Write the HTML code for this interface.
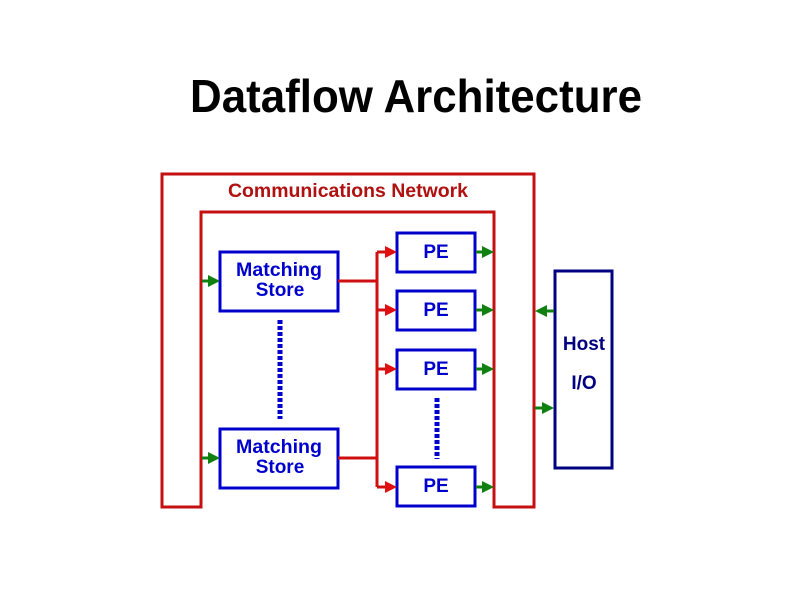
<!DOCTYPE html>
<html><head><style>html,body{margin:0;padding:0;background:#fff;width:794px;height:595px;overflow:hidden}</style></head>
<body>
<svg width="794" height="595" xmlns="http://www.w3.org/2000/svg" font-family="Liberation Sans, Arial, sans-serif" font-weight="bold">
<text x="416" y="112" font-size="46" text-anchor="middle" textLength="452" lengthAdjust="spacingAndGlyphs" fill="#000">Dataflow Architecture</text>
<path d="M162,507 L162,174 L534,174 L534,507 L494,507 L494,212 L201,212 L201,507 Z" fill="none" stroke="#c41010" stroke-width="3"/>
<text x="348" y="197" font-size="19" text-anchor="middle" textLength="240" lengthAdjust="spacingAndGlyphs" fill="#b01010">Communications Network</text>
<g fill="none" stroke="#0000cc" stroke-width="3">
<rect x="220" y="252" width="118" height="59"/>
<rect x="220" y="429" width="118" height="59"/>
<rect x="397" y="233" width="78" height="39"/>
<rect x="397" y="291" width="78" height="39"/>
<rect x="397" y="350" width="78" height="39"/>
<rect x="397" y="467" width="78" height="39"/>
</g>
<rect x="555" y="271" width="57" height="197" fill="none" stroke="#000080" stroke-width="3"/>
<g fill="#0000cc" font-size="19" text-anchor="middle">
<text x="279" y="276" textLength="86" lengthAdjust="spacingAndGlyphs">Matching</text><text x="280" y="296">Store</text>
<text x="279" y="453" textLength="86" lengthAdjust="spacingAndGlyphs">Matching</text><text x="280" y="473">Store</text>
<text x="436" y="258">PE</text><text x="436" y="316">PE</text>
<text x="436" y="375">PE</text><text x="436" y="492">PE</text>
</g>
<g fill="#000080" font-size="19" text-anchor="middle">
<text x="584" y="350">Host</text><text x="584" y="389">I/O</text>
</g>
<g stroke="#0000cc" stroke-width="5" stroke-dasharray="4,2">
<line x1="280" y1="320" x2="280" y2="419"/>
<line x1="437" y1="398" x2="437" y2="459"/>
</g>
<g stroke="#d01010" stroke-width="3" fill="none">
<line x1="377" y1="252" x2="377" y2="487"/>
<line x1="338" y1="281" x2="377" y2="281"/>
<line x1="338" y1="458" x2="377" y2="458"/>
<line x1="377" y1="252" x2="386" y2="252"/>
<line x1="377" y1="310" x2="386" y2="310"/>
<line x1="377" y1="369" x2="386" y2="369"/>
<line x1="377" y1="487" x2="386" y2="487"/>
</g>
<g fill="#e01010">
<path d="M385,246 L397,252 L385,258Z"/><path d="M385,304 L397,310 L385,316Z"/>
<path d="M385,363 L397,369 L385,375Z"/><path d="M385,481 L397,487 L385,493Z"/>
</g>
<g stroke="#108010" stroke-width="3">
<line x1="202" y1="281" x2="210" y2="281"/><line x1="202" y1="458" x2="210" y2="458"/>
<line x1="476" y1="252" x2="484" y2="252"/><line x1="476" y1="310" x2="484" y2="310"/>
<line x1="476" y1="369" x2="484" y2="369"/><line x1="476" y1="487" x2="484" y2="487"/>
<line x1="545" y1="311" x2="554" y2="311"/><line x1="535" y1="408" x2="543" y2="408"/>
</g>
<g fill="#108010">
<path d="M208,275 L220,281 L208,287Z"/><path d="M208,452 L220,458 L208,464Z"/>
<path d="M482,246 L494,252 L482,258Z"/><path d="M482,304 L494,310 L482,316Z"/>
<path d="M482,363 L494,369 L482,375Z"/><path d="M482,481 L494,487 L482,493Z"/>
<path d="M547,305 L535,311 L547,317Z"/><path d="M542,402 L554,408 L542,414Z"/>
</g>
</svg>
</body></html>
